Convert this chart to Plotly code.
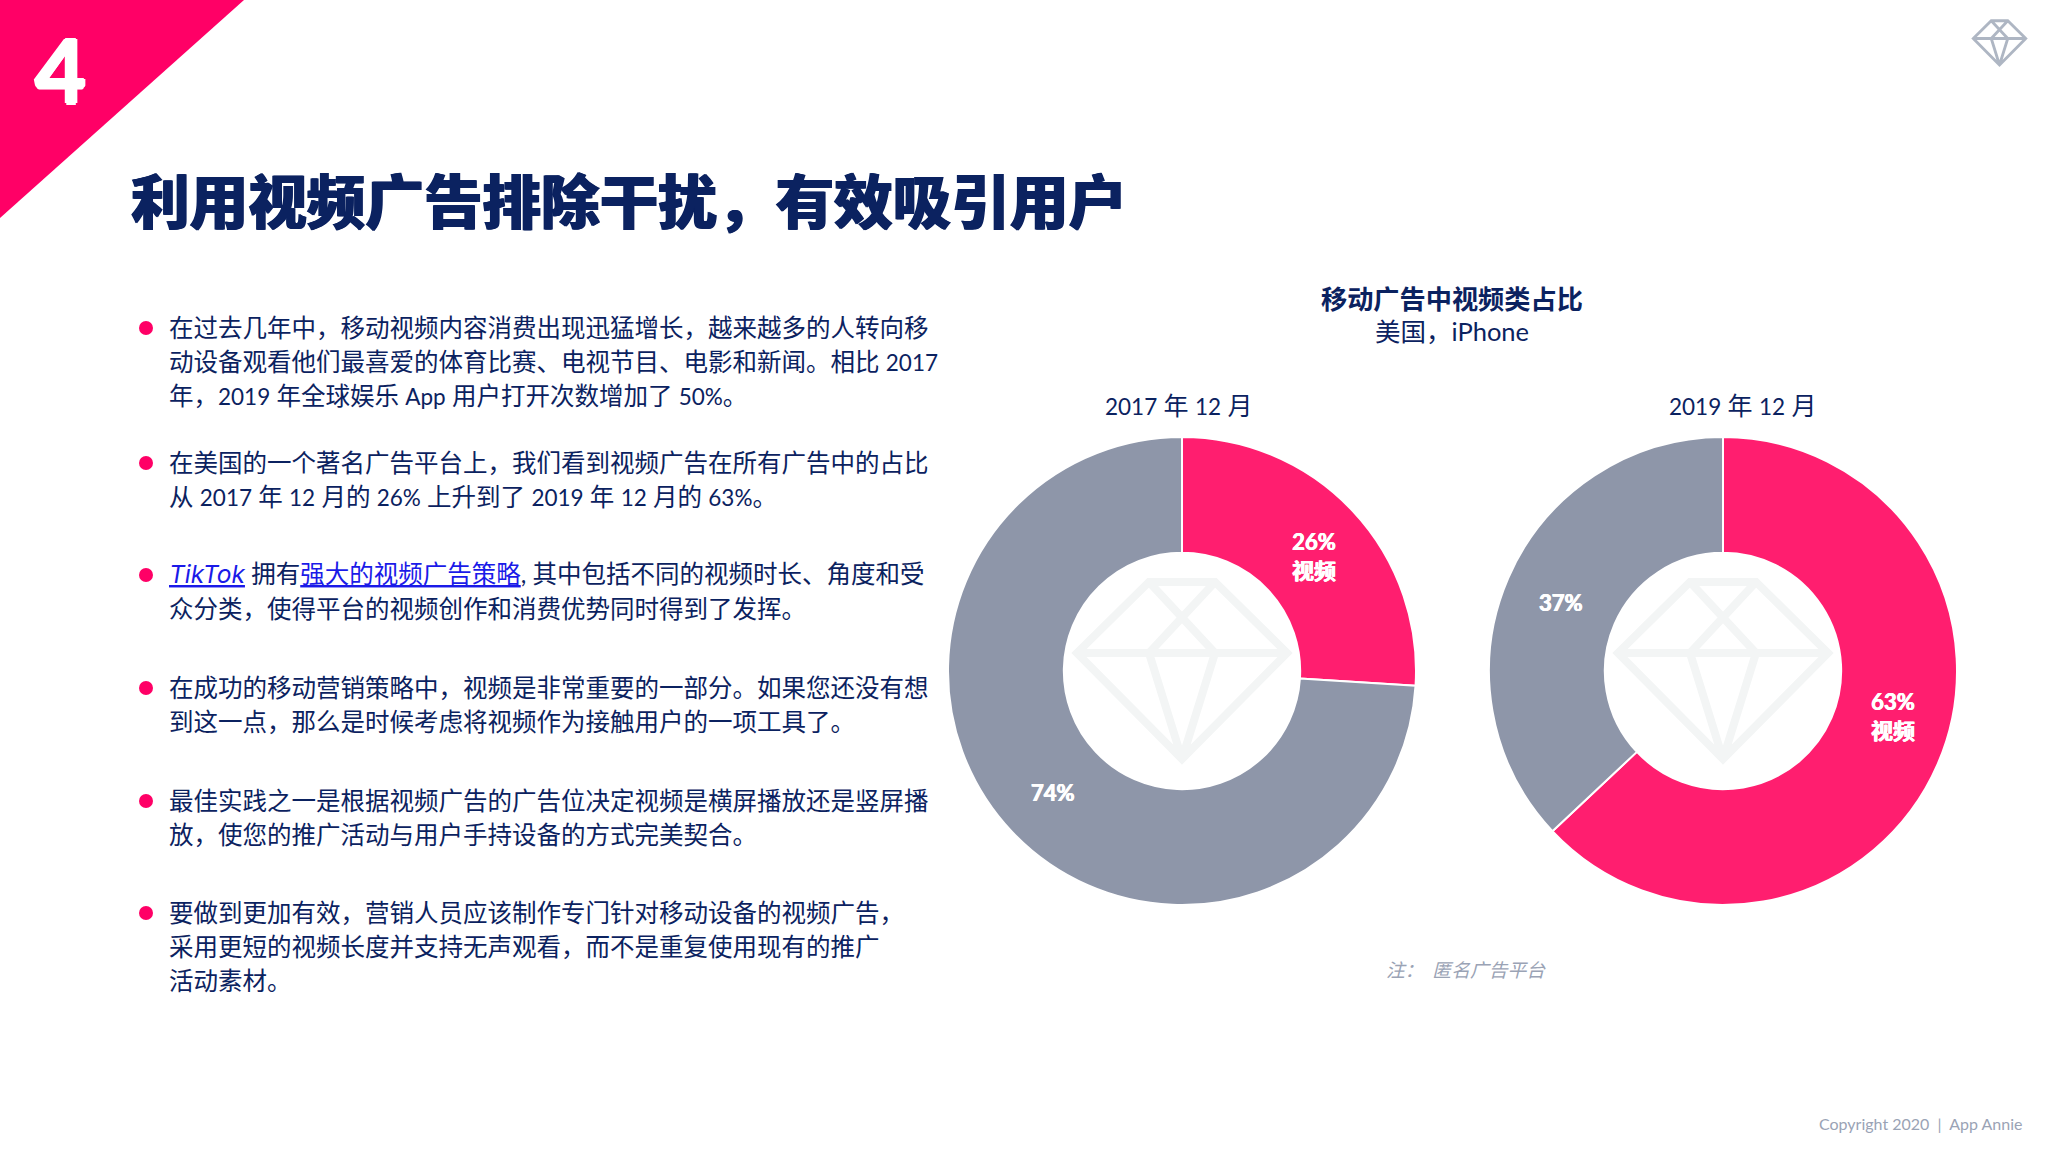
import re
import plotly.graph_objects as go

W, H = 2048, 1152

FONT = 'Lato, "Noto Sans CJK SC", sans-serif'
NAVY = '#0B2260'
PINK = '#FF0066'
SLICE_PINK = '#FF1E6F'
SLICE_GREY = '#8E96A9'
NOTE_GREY = '#9AA3B5'

# chart data
pie_titles = ['2017 年 12 月', '2019 年 12 月']
slice_names = ['视频', '其他']
shares_2017 = [26, 74]
shares_2019 = [63, 37]
slice_labels = ['26%<br>视频', '74%', '63%<br>视频', '37%']
label_x = [1314, 1053, 1893, 1561]
label_y = [556, 792, 716, 602]

# slide text
title_text = '利用视频广告排除干扰，有效吸引用户'
chart_title = '<b>移动广告中视频类占比</b>'
chart_subtitle = '美国，iPhone'
note_text = '<i>注：  匿名广告平台</i>'
copyright_text = 'Copyright 2020  |  App Annie'
link = '<span style="color:#1A1AE8"><u>%s</u></span>'
tiktok = '<i><span style="color:#1A1AE8;font-family:Inter"><u>TikTok</u></span></i>'
body_lines = [
    '在过去几年中，移动视频内容消费出现迅猛增长，越来越多的人转向移',
    '动设备观看他们最喜爱的体育比赛、电视节目、电影和新闻。相比 2017',
    '年，2019 年全球娱乐 App 用户打开次数增加了 50%。',
    '在美国的一个著名广告平台上，我们看到视频广告在所有广告中的占比',
    '从 2017 年 12 月的 26% 上升到了 2019 年 12 月的 63%。',
    None,  # TikTok line, has links so it is built below
    '众分类，使得平台的视频创作和消费优势同时得到了发挥。',
    '在成功的移动营销策略中，视频是非常重要的一部分。如果您还没有想',
    '到这一点，那么是时候考虑将视频作为接触用户的一项工具了。',
    '最佳实践之一是根据视频广告的广告位决定视频是横屏播放还是竖屏播',
    '放，使您的推广活动与用户手持设备的方式完美契合。',
    '要做到更加有效，营销人员应该制作专门针对移动设备的视频广告，',
    '采用更短的视频长度并支持无声观看，而不是重复使用现有的推广',
    '活动素材。',
]
tiktok_line = tiktok + ' 拥有' + link % '强大的视频广告策略' + ', 其中包括不同的视频时长、角度和受'
body_y = [327, 361, 395, 462, 496, 574, 608, 687, 721, 800, 834, 912, 946, 980]
bullet_y = [328, 463, 575, 688, 801, 913]

# pie geometry in page pixels
pie_centers = [1182, 1723]
pie_cy = 671
pie_r = 234


def px(x):
    return x / W


def py(y):
    return 1 - y / H


def small_latin(text, size=22.5):
    # the slide's latin digits run narrower than the CJK glyphs around them
    return re.sub(r'[0-9A-Za-z%]+', lambda m: f'<span style="font-size:{size}px">{m.group(0)}</span>', text)


def diamond(cx, cy, k):
    # gem outline plus inner facets, centred on (cx, cy)
    def pt(x, y):
        return f'{px(cx + x * k):.5f},{py(cy + y * k):.5f}'
    outline = [(-33, -89), (33, -89), (105, -18), (0, 88), (-105, -18)]
    parts = ['M' + ' L'.join(pt(*p) for p in outline) + ' Z']
    for a, b in [((-105, -18), (105, -18)), ((-33, -89), (33, -18)), ((33, -89), (-33, -18)),
                 ((-33, -18), (0, 88)), ((33, -18), (0, 88))]:
        parts.append(f'M{pt(*a)} L{pt(*b)}')
    return ' '.join(parts)


def note(text, x, y, size, color=NAVY, anchor='center', **kw):
    return dict(text=text, x=px(x), y=py(y), xref='paper', yref='paper', showarrow=False,
                xanchor=anchor, yanchor='middle', align=anchor,
                font=dict(family=FONT, size=size, color=color, **kw))


fig = go.Figure()

for cx, values, name in zip(pie_centers, [shares_2017, shares_2019], pie_titles):
    fig.add_trace(go.Pie(
        labels=slice_names,
        values=values,
        textinfo='none',
        hole=0.505,
        sort=False,
        direction='clockwise',
        rotation=0,
        marker=dict(colors=[SLICE_PINK, SLICE_GREY], line=dict(color='white', width=2)),
        domain=dict(x=[px(cx - pie_r), px(cx + pie_r)], y=[py(pie_cy + pie_r), py(pie_cy - pie_r)]),
        name=name,
        showlegend=False,
    ))

shapes = [
    dict(type='path', xref='paper', yref='paper', line_width=0, fillcolor=PINK,
         path=f'M0,{py(0)} L{px(244)},{py(0)} L0,{py(218)} Z'),
    dict(type='path', xref='paper', yref='paper', path=diamond(1999.5, 43, 0.25),
         line=dict(color='#AEB6C3', width=2.8)),
]
for cx in pie_centers:
    shapes.append(dict(type='path', xref='paper', yref='paper', path=diamond(cx, pie_cy, 1),
                       line=dict(color='#F3F5F5', width=8)))
for y in bullet_y:
    shapes.append(dict(type='circle', xref='paper', yref='paper', line_width=0, fillcolor=PINK,
                       x0=px(139), x1=px(153), y0=py(y + 7), y1=py(y - 7)))

annotations = [
    note('<b>4</b>', 60, 69, 88, color='white', weight=900,
         shadow='1.5px 0 0 white, -1.5px 0 0 white, 0 1.5px 0 white, 0 -1.5px 0 white'),
    note(title_text, 129, 201, 58.6, anchor='left', weight=900,
         shadow=f'0.8px 0 0 {NAVY}, -0.8px 0 0 {NAVY}'),
    note(chart_title, 1452, 299, 26.2),
    note(chart_subtitle, 1452, 331, 25.5),
    note(small_latin(pie_titles[0]), 1179, 405, 25),
    note(small_latin(pie_titles[1]), 1743, 405, 25),
    note(note_text, 1466, 969, 18.8, color=NOTE_GREY),
    note(copyright_text, 2024, 1123, 16, color=NOTE_GREY, anchor='right'),
]
for line, y in zip(body_lines, body_y):
    text = tiktok_line if line is None else small_latin(line)
    annotations.append(note(text, 167, y, 24.5, anchor='left'))
for text, x, y in zip(slice_labels, label_x, label_y):
    annotations.append(note(f'<b>{text}</b>', x, y, 22, color='white', weight=900,
                            shadow='0.4px 0 0 white, -0.4px 0 0 white'))

fig.update_layout(
    width=W,
    height=H,
    margin=dict(l=0, r=0, t=0, b=0),
    paper_bgcolor='white',
    plot_bgcolor='white',
    shapes=shapes,
    annotations=annotations,
)

fig.write_html('out.html', config={'displayModeBar': False},
               post_script="document.body.style.margin='0';")
